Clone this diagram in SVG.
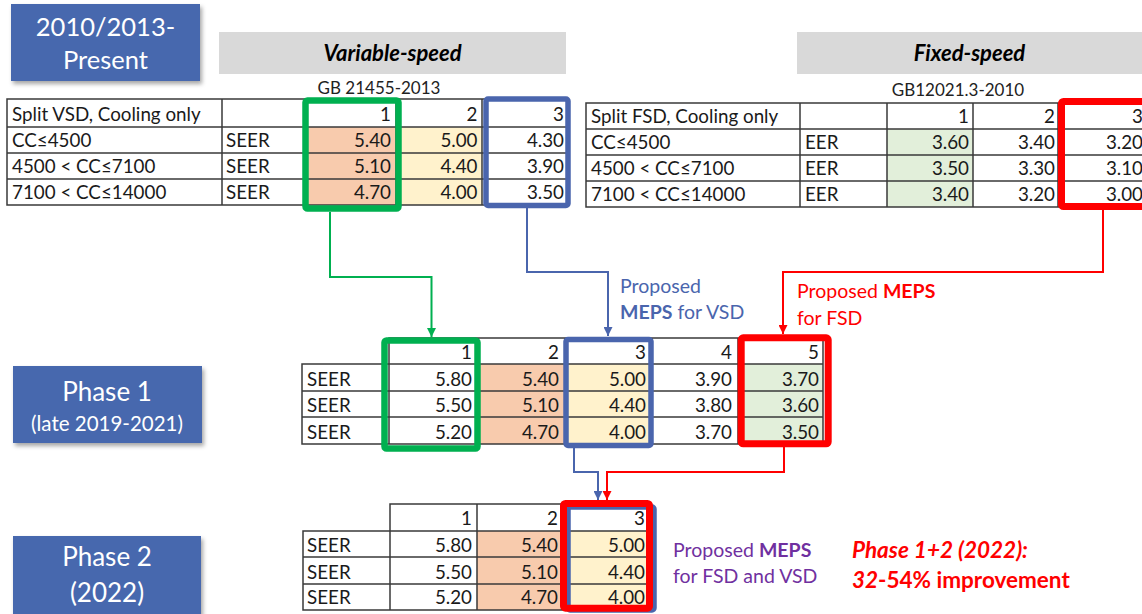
<svg xmlns="http://www.w3.org/2000/svg" width="1142" height="614" viewBox="0 0 1142 614">
<defs>
<style>
.t{font-family:Lato,"Liberation Sans",sans-serif;font-size:18.8px;fill:#1a1a1a}
.e{text-anchor:end}
.grid{fill:none;stroke:#3a3a3a;stroke-width:1.5}
.sal{fill:#f8cbad}.yel{fill:#fff2cc}.grn{fill:#e2efda}
.box{fill:#4767ae;filter:url(#sh)}
.bt{font-family:Lato,"Liberation Sans",sans-serif;fill:#fff;text-anchor:middle}
.band{fill:#d9d9d9}
.bh{font-family:Lato,"Liberation Sans",sans-serif;font-weight:bold;font-style:italic;font-size:22px;fill:#000;text-anchor:middle}
.gb{font-family:Lato,"Liberation Sans",sans-serif;font-size:17px;fill:#222;text-anchor:middle}
.hg{fill:none;stroke:#00b050;stroke-width:6.5}
.hb{fill:none;stroke:#4a65ad;stroke-width:5.5}
.hr{fill:none;stroke:#ff0000;stroke-width:7}
.c{fill:none;stroke-width:2}
.lab{font-family:Lato,"Liberation Sans",sans-serif;font-size:19.5px}
</style>
<filter id="sh" x="-10%" y="-10%" width="125%" height="130%">
<feDropShadow dx="2" dy="3" stdDeviation="2" flood-color="#000" flood-opacity="0.35"/>
</filter>
<marker id="ag" viewBox="0 0 10 10" refX="10" refY="5" markerWidth="9" markerHeight="9" markerUnits="userSpaceOnUse" orient="auto"><path d="M0,0 L10,5 L0,10 Z" fill="#00b050"/></marker>
<marker id="ab" viewBox="0 0 10 10" refX="10" refY="5" markerWidth="9" markerHeight="9" markerUnits="userSpaceOnUse" orient="auto"><path d="M0,0 L10,5 L0,10 Z" fill="#4a65ad"/></marker>
<marker id="ar" viewBox="0 0 10 10" refX="10" refY="5" markerWidth="9" markerHeight="9" markerUnits="userSpaceOnUse" orient="auto"><path d="M0,0 L10,5 L0,10 Z" fill="#ff0000"/></marker>
</defs>
<rect width="1142" height="614" fill="#fff"/>

<g id="period-present">
<rect class="box" x="11" y="4" width="189" height="77"/>
<text class="bt" x="105.5" y="36" font-size="25.5">2010/2013-</text>
<text class="bt" x="105.5" y="69" font-size="25.5">Present</text>
</g>
<g id="period-phase1">
<rect class="box" x="13" y="366" width="189" height="77"/>
<text class="bt" x="107" y="401" font-size="26">Phase 1</text>
<text class="bt" x="107" y="431" font-size="20.5">(late 2019-2021)</text>
</g>
<g id="period-phase2">
<rect class="box" x="13" y="536" width="188" height="82"/>
<text class="bt" x="107" y="566" font-size="26">Phase 2</text>
<text class="bt" x="107" y="602" font-size="26">(2022)</text>
</g>

<g id="header-variable">
<rect class="band" x="219" y="32" width="347" height="42"/>
<text class="bh" x="392.5" y="61">Variable-speed</text>
</g>
<g id="header-fixed">
<rect class="band" x="797" y="32" width="345" height="42"/>
<text class="bh" x="969.5" y="61">Fixed-speed</text>
</g>

<g id="table-vsd">
<text class="gb" x="379" y="94">GB 21455-2013</text>
<rect class="sal" x="305" y="127" width="91" height="78"/>
<rect class="yel" x="396" y="127" width="86" height="78"/>
<path class="grid" d="M7,99H567V205H7Z M7,127H567 M7,153H567 M7,179H567 M222,99V205 M305,99V205 M396,99V205 M482,99V205"/>
<text class="t" x="12" y="121">Split VSD, Cooling only</text>
<text class="t" x="12" y="147">CC≤4500</text>
<text class="t" x="12" y="173">4500 &lt; CC≤7100</text>
<text class="t" x="12" y="199">7100 &lt; CC≤14000</text>
<text class="t" x="226" y="147">SEER</text>
<text class="t" x="226" y="173">SEER</text>
<text class="t" x="226" y="199">SEER</text>
<text class="t e" x="391" y="121">1</text>
<text class="t e" x="391" y="147">5.40</text>
<text class="t e" x="391" y="173">5.10</text>
<text class="t e" x="391" y="199">4.70</text>
<text class="t e" x="477.5" y="121">2</text>
<text class="t e" x="477.5" y="147">5.00</text>
<text class="t e" x="477.5" y="173">4.40</text>
<text class="t e" x="477.5" y="199">4.00</text>
<text class="t e" x="564" y="121">3</text>
<text class="t e" x="564" y="147">4.30</text>
<text class="t e" x="564" y="173">3.90</text>
<text class="t e" x="564" y="199">3.50</text>
<rect class="hg" x="305.5" y="100.5" width="93" height="108" rx="2"/>
<rect class="hb" x="486" y="99" width="82" height="106.5" rx="2"/>
</g>

<g id="table-fsd">
<text class="gb" x="958" y="96">GB12021.3-2010</text>
<rect class="grn" x="887" y="129" width="86" height="78"/>
<path class="grid" d="M586,103H1146V207H586Z M586,129H1146 M586,155H1146 M586,181H1146 M800,103V207 M887,103V207 M973,103V207 M1058,103V207"/>
<text class="t" x="591" y="123">Split FSD, Cooling only</text>
<text class="t" x="591" y="149">CC≤4500</text>
<text class="t" x="591" y="175">4500 &lt; CC≤7100</text>
<text class="t" x="591" y="200.5">7100 &lt; CC≤14000</text>
<text class="t" x="805" y="149">EER</text>
<text class="t" x="805" y="175">EER</text>
<text class="t" x="805" y="200.5">EER</text>
<text class="t e" x="969" y="123">1</text>
<text class="t e" x="969" y="149">3.60</text>
<text class="t e" x="969" y="175">3.50</text>
<text class="t e" x="969" y="200.5">3.40</text>
<text class="t e" x="1055" y="123">2</text>
<text class="t e" x="1055" y="149">3.40</text>
<text class="t e" x="1055" y="175">3.30</text>
<text class="t e" x="1055" y="200.5">3.20</text>
<text class="t e" x="1143" y="123">3</text>
<text class="t e" x="1143" y="149">3.20</text>
<text class="t e" x="1143" y="175">3.10</text>
<text class="t e" x="1143" y="200.5">3.00</text>
<rect class="hr" x="1061.5" y="101.5" width="100" height="105" rx="2"/>
</g>

<g id="table-phase1">
<rect class="sal" x="478" y="364" width="87" height="80"/>
<rect class="yel" x="565" y="364" width="87" height="80"/>
<rect class="grn" x="738" y="364" width="85" height="80"/>
<path class="grid" d="M389,338H823V444H302V364H389Z M302,364H823 M302,391H823 M302,417H823 M389,338V444 M478,338V444 M565,338V444 M652,338V444 M738,338V444"/>
<text class="t" x="307" y="385.5">SEER</text>
<text class="t" x="307" y="412">SEER</text>
<text class="t" x="307" y="438.5">SEER</text>
<text class="t e" x="472" y="359">1</text>
<text class="t e" x="472" y="385.5">5.80</text>
<text class="t e" x="472" y="412">5.50</text>
<text class="t e" x="472" y="438.5">5.20</text>
<text class="t e" x="559" y="359">2</text>
<text class="t e" x="559" y="385.5">5.40</text>
<text class="t e" x="559" y="412">5.10</text>
<text class="t e" x="559" y="438.5">4.70</text>
<text class="t e" x="646" y="359">3</text>
<text class="t e" x="646" y="385.5">5.00</text>
<text class="t e" x="646" y="412">4.40</text>
<text class="t e" x="646" y="438.5">4.00</text>
<text class="t e" x="732" y="359">4</text>
<text class="t e" x="732" y="385.5">3.90</text>
<text class="t e" x="732" y="412">3.80</text>
<text class="t e" x="732" y="438.5">3.70</text>
<text class="t e" x="819" y="359">5</text>
<text class="t e" x="819" y="385.5">3.70</text>
<text class="t e" x="819" y="412">3.60</text>
<text class="t e" x="819" y="438.5">3.50</text>
<rect class="hg" x="384.5" y="340.5" width="93" height="108" rx="2"/>
<rect class="hb" x="566" y="339.5" width="85" height="106" rx="2"/>
<rect class="hr" x="741.2" y="337.8" width="87" height="106" rx="2"/>
</g>

<g id="table-phase2">
<rect class="sal" x="477" y="531" width="85" height="79"/>
<rect class="yel" x="562" y="531" width="87" height="79"/>
<path class="grid" d="M390,504H649V610H303V531H390Z M303,531H649 M303,557H649 M303,584H649 M390,504V610 M477,504V610 M562,504V610"/>
<text class="t" x="307" y="552">SEER</text>
<text class="t" x="307" y="578.5">SEER</text>
<text class="t" x="307" y="604">SEER</text>
<text class="t e" x="472" y="525">1</text>
<text class="t e" x="472" y="552">5.80</text>
<text class="t e" x="472" y="578.5">5.50</text>
<text class="t e" x="472" y="604">5.20</text>
<text class="t e" x="558" y="525">2</text>
<text class="t e" x="558" y="552">5.40</text>
<text class="t e" x="558" y="578.5">5.10</text>
<text class="t e" x="558" y="604">4.70</text>
<text class="t e" x="645" y="525">3</text>
<text class="t e" x="645" y="552">5.00</text>
<text class="t e" x="645" y="578.5">4.40</text>
<text class="t e" x="645" y="604">4.00</text>
<rect class="hb" x="568" y="507" width="86" height="103" rx="2"/>
<rect class="hr" x="563.5" y="503.5" width="86" height="104.7" rx="2"/>
</g>

<g id="connectors">
<path class="c" stroke="#00b050" d="M330,212V277H431.5V337" marker-end="url(#ag)"/>
<path class="c" stroke="#4a65ad" d="M527,208V272H608V336" marker-end="url(#ab)"/>
<path class="c" stroke="#ff0000" d="M1103,210V272H783V334" marker-end="url(#ar)"/>
<path class="c" stroke="#4a65ad" d="M574,448V472H598V500" marker-end="url(#ab)"/>
<path class="c" stroke="#ff0000" d="M784,447V472H607V500" marker-end="url(#ar)"/>
</g>

<g id="labels">
<text class="lab" fill="#4a65ad" x="620" y="293">Proposed</text>
<text class="lab" fill="#4a65ad" x="620" y="319"><tspan font-weight="bold">MEPS</tspan> for VSD</text>
<text class="lab" fill="#ff0000" x="797" y="298">Proposed <tspan font-weight="bold">MEPS</tspan></text>
<text class="lab" fill="#ff0000" x="797" y="325">for FSD</text>
<text class="lab" fill="#7030a0" x="673" y="557" font-size="18.5">Proposed <tspan font-weight="bold">MEPS</tspan></text>
<text class="lab" fill="#7030a0" x="673" y="583" font-size="18.5">for FSD and VSD</text>
<text fill="#ff0000" x="852" y="558" font-family="Lato,'Liberation Sans',sans-serif" font-size="22.5" font-weight="bold" font-style="italic">Phase 1+2 (2022):</text>
<text fill="#ff0000" x="852" y="588" font-family="Lato,'Liberation Sans',sans-serif" font-size="22.5" font-weight="bold"><tspan font-style="italic">32</tspan>-54% improvement</text>
</g>
</svg>
